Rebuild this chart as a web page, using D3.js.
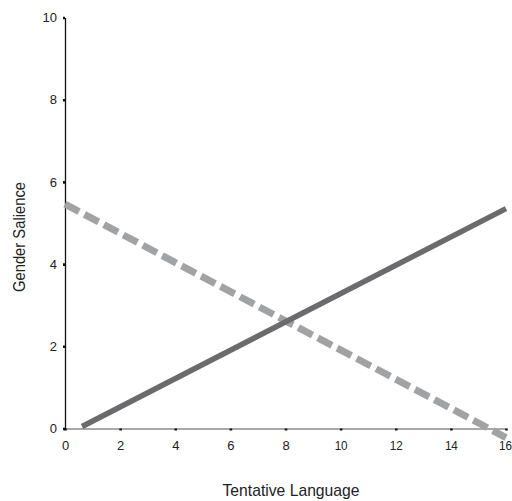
<!DOCTYPE html>
<html>
<head>
<meta charset="utf-8">
<script src="https://cdn.jsdelivr.net/npm/d3@7"></script>
<style>
  html, body { margin: 0; padding: 0; background: #fff; }
  svg { display: block; }
  text { font-family: "Liberation Sans", Arial, sans-serif; fill: #222; }
</style>
</head>
<body>
<svg id="chart" width="512" height="501"></svg>
<script>
// Axis tick values
const xTicks = [0, 2, 4, 6, 8, 10, 12, 14, 16];
const yTicks = [0, 2, 4, 6, 8, 10];

// Fitted lines (endpoints in data units)
const solidLine = [{x: 0.62, y: 0.05}, {x: 16, y: 5.35}];
const dashedLine = [{x: 0, y: 5.46}, {x: 16, y: -0.22}];

const svg = d3.select("#chart");
const x = d3.scaleLinear().domain([0, 16]).range([65, 506]);
const y = d3.scaleLinear().domain([0, 10]).range([428.5, 17.5]);

// x axis
const xAxis = svg.append("g").attr("transform", "translate(0,428.5)")
  .call(d3.axisBottom(x).tickValues(xTicks).tickSize(2).tickPadding(10).tickSizeOuter(0));
xAxis.select(".domain").attr("stroke", "#555").attr("stroke-width", 1.2);
xAxis.selectAll(".tick line").attr("stroke", "#111").attr("stroke-width", 2.6);
xAxis.selectAll(".tick text").attr("font-size", 13).attr("fill", "#222")
  .attr("textLength", d => d >= 10 ? 13 : null)
  .attr("lengthAdjust", "spacingAndGlyphs")
  .attr("dx", d => d === 16 ? -1 : 0);

// y axis
const yAxis = svg.append("g").attr("transform", "translate(65,0)")
  .call(d3.axisLeft(y).tickValues(yTicks).tickSize(2).tickPadding(6).tickSizeOuter(0));
yAxis.select(".domain").attr("stroke", "#111").attr("stroke-width", 1.3);
yAxis.selectAll(".tick line").attr("stroke", "#111").attr("stroke-width", 2.6);
yAxis.selectAll(".tick text").attr("font-size", 13).attr("fill", "#222");

const line = d3.line().x(d => x(d.x)).y(d => y(d.y));

svg.append("path").datum(dashedLine)
  .attr("d", line).attr("fill", "none")
  .attr("stroke", "#a0a2a4").attr("stroke-width", 7)
  .attr("stroke-dasharray", "16,6");

svg.append("path").datum(solidLine)
  .attr("d", line).attr("fill", "none")
  .attr("stroke", "#6b6b6d").attr("stroke-width", 5.5);

// axis titles (condensed to the narrow face widths)
svg.append("text").attr("x", 291).attr("y", 496)
  .attr("text-anchor", "middle").attr("font-size", 17)
  .attr("textLength", 137).attr("lengthAdjust", "spacingAndGlyphs")
  .text("Tentative Language");

svg.append("text")
  .attr("transform", "translate(25,237) rotate(-90)")
  .attr("text-anchor", "middle").attr("font-size", 17)
  .attr("textLength", 110).attr("lengthAdjust", "spacingAndGlyphs")
  .text("Gender Salience");
</script>
</body>
</html>
